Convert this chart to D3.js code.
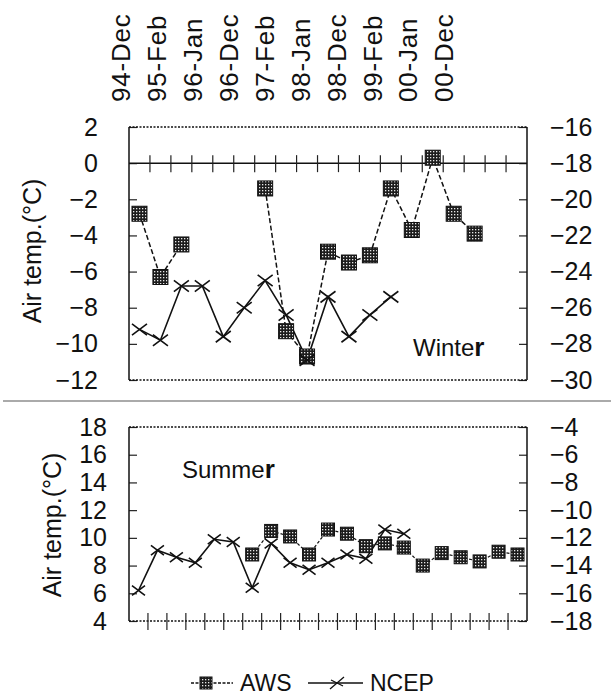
<!DOCTYPE html>
<html><head><meta charset="utf-8">
<script src="https://cdn.jsdelivr.net/npm/d3@7"></script>
<style>body{margin:0;background:#fff}svg{display:block}text{font-family:"Liberation Sans",Arial,sans-serif;fill:#111}</style>
</head><body><svg id="c" width="611" height="700"></svg>
<script>
// ---- data ----
const dateLabels = ["94-Dec","95-Feb","96-Jan","96-Dec","97-Feb","98-Jan","98-Dec","99-Feb","00-Jan","00-Dec"];
const winterAWS  = [-2.8,-6.3,-4.5,null,null,null,-1.4,-9.3,-10.7,-4.9,-5.5,-5.1,-1.4,-3.7,0.3,-2.8,-3.9,null,null];
const winterNCEP = [-9.2,-9.8,-6.8,-6.8,-9.6,-8.0,-6.5,-8.4,-10.9,-7.4,-9.6,-8.4,-7.4,null,null,null,null,null,null];
const summerAWS  = [null,null,null,null,null,null,8.8,10.5,10.1,8.8,10.6,10.3,9.4,9.6,9.3,8.0,8.9,8.6,8.3,9.0,8.8];
const summerNCEP = [6.2,9.1,8.6,8.2,9.9,9.7,6.4,9.6,8.2,7.7,8.2,8.8,8.5,10.6,10.3,null,null,null,null,null,null];
const winterTicksL = [2,0,-2,-4,-6,-8,-10,-12];
const winterTicksR = [-16,-18,-20,-22,-24,-26,-28,-30];
const summerTicksL = [18,16,14,12,10,8,6,4];
const summerTicksR = [-4,-6,-8,-10,-12,-14,-16,-18];
const seriesNames = ["AWS","NCEP"];

const svg = d3.select("#c");
svg.append("rect").attr("width",611).attr("height",700).attr("fill","#fff");

// checkered pattern for AWS squares
const defs = svg.append("defs");
const pat = defs.append("pattern").attr("id","chk").attr("width",3).attr("height",3).attr("patternUnits","userSpaceOnUse");
pat.append("rect").attr("width",3).attr("height",3).attr("fill","#1c1c1c");
pat.append("rect").attr("x",1).attr("y",1).attr("width",1.3).attr("height",1.3).attr("fill","#e8e8e8");

const L = 129, R = 527;

// top date labels
const xLab = d3.scalePoint().domain(dateLabels).range([121, 444]);
svg.append("g").selectAll("text").data(dateLabels).join("text")
  .attr("transform", d => `translate(${xLab(d)},102) rotate(-90)`)
  .attr("dy","0.36em").attr("font-size",26).attr("letter-spacing",0.8)
  .text(d => d);

function panel(cfg){
  const g = svg.append("g");
  const x = d3.scaleBand().domain(d3.range(cfg.aws.length)).range([L,R]);
  const cx = i => x(i) + x.bandwidth()/2;
  const y = d3.scaleLinear().domain(cfg.dom).range([cfg.bottom, cfg.top]);
  const yR = d3.scaleLinear().domain(cfg.domR).range([cfg.bottom, cfg.top]);

  // left axis
  const aL = g.append("g").attr("transform",`translate(${L},0)`)
    .call(d3.axisLeft(y).tickValues(cfg.ticksL).tickSize(-8).tickPadding(cfg.padL));
  aL.select(".domain").remove();
  aL.selectAll("line").attr("stroke","#222").attr("stroke-width",1.2);
  aL.selectAll("text").attr("font-size",25).attr("font-family","Liberation Sans, Arial, sans-serif").attr("fill","#111");
  // right axis
  const aR = g.append("g").attr("transform",`translate(${R},0)`)
    .call(d3.axisRight(yR).tickValues(cfg.ticksR).tickSize(-8).tickPadding(23));
  aR.select(".domain").remove();
  aR.selectAll("line").attr("stroke","#222").attr("stroke-width",1.2);
  aR.selectAll("text").attr("font-size",25).attr("font-family","Liberation Sans, Arial, sans-serif").attr("fill","#111");

  // frame
  g.append("line").attr("x1",L).attr("x2",R).attr("y1",cfg.top).attr("y2",cfg.top)
    .attr("stroke","#111").attr("stroke-width",1.6).attr("stroke-dasharray","2,1.5");
  g.append("line").attr("x1",L).attr("x2",R).attr("y1",cfg.bottom).attr("y2",cfg.bottom)
    .attr("stroke","#111").attr("stroke-width",1.6).attr("stroke-dasharray","2,1.5");
  g.append("line").attr("x1",L).attr("x2",L).attr("y1",cfg.top).attr("y2",cfg.bottom)
    .attr("stroke","#111").attr("stroke-width",1.5);
  g.append("line").attr("x1",R).attr("x2",R).attr("y1",cfg.top).attr("y2",cfg.bottom)
    .attr("stroke","#111").attr("stroke-width",1.5);

  // category axis (cross ticks)
  const ay = y(cfg.axisAt);
  if (cfg.axisAt !== cfg.dom[0]) {
    g.append("line").attr("x1",L).attr("x2",R).attr("y1",ay).attr("y2",ay).attr("stroke","#111").attr("stroke-width",1.5);
  }
  const bounds = d3.range(1, cfg.aws.length).map(i => x(i));
  g.append("g").selectAll("line").data(bounds).join("line")
    .attr("x1",d=>d).attr("x2",d=>d).attr("y1",ay-8).attr("y2",ay+9)
    .attr("stroke","#222").attr("stroke-width",1.2);

  // lines
  const line = d3.line().defined(d => d != null).x((d,i)=>cx(i)).y(d=>y(d));
  g.append("path").datum(cfg.aws).attr("d",line).attr("fill","none")
    .attr("stroke","#111").attr("stroke-width",cfg.awsW).attr("stroke-dasharray",cfg.awsDash);
  g.append("path").datum(cfg.ncep).attr("d",line).attr("fill","none")
    .attr("stroke","#111").attr("stroke-width",1.6);

  // markers
  const s = cfg.sq;
  g.append("g").selectAll("rect").data(cfg.aws.map((v,i)=>({v,i})).filter(d=>d.v!=null)).join("rect")
    .attr("x",d=>cx(d.i)-s/2).attr("y",d=>y(d.v)-s/2).attr("width",s).attr("height",s)
    .attr("fill","url(#chk)").attr("stroke","#111").attr("stroke-width",1);
  const k = cfg.xs;
  g.append("g").selectAll("path").data(cfg.ncep.map((v,i)=>({v,i})).filter(d=>d.v!=null)).join("path")
    .attr("d",d=>{const X=cx(d.i),Y=y(d.v);return `M${X-k},${Y-k*0.75}L${X+k},${Y+k*0.75}M${X-k},${Y+k*0.75}L${X+k},${Y-k*0.75}`;})
    .attr("stroke","#111").attr("stroke-width",1.6).attr("fill","none");

  // y title
  g.append("text").attr("transform",`translate(${cfg.titleX},${cfg.titleY}) rotate(-90)`)
    .attr("text-anchor","middle").attr("dy","0.36em").attr("font-size",25).text("Air temp.(°C)");

  // season label
  const t = g.append("text").attr("x",cfg.labX).attr("y",cfg.labY).attr("font-size",24);
  t.append("tspan").text(cfg.label.slice(0,-1));
  t.append("tspan").attr("font-weight","bold").attr("font-size",26).text(cfg.label.slice(-1));
}

panel({aws:winterAWS, ncep:winterNCEP, dom:[-12,2], domR:[-30,-16], top:127, bottom:380,
  ticksL:winterTicksL, ticksR:winterTicksR, padL:31, axisAt:0, awsDash:"5,2.5", awsW:1.5,
  sq:15, xs:7.5, titleX:32, titleY:251, label:"Winter", labX:413, labY:356});
panel({aws:summerAWS, ncep:summerNCEP, dom:[4,18], domR:[-18,-4], top:427, bottom:621,
  ticksL:summerTicksL, ticksR:summerTicksR, padL:22, axisAt:4, awsDash:"3,2", awsW:1.2,
  sq:13, xs:6.5, titleX:52, titleY:525, label:"Summer", labX:182, labY:478});

// divider
svg.append("line").attr("x1",3).attr("x2",611).attr("y1",401).attr("y2",401)
  .attr("stroke","#aaa").attr("stroke-width",2);

// legend
const lg = svg.append("g");
const ly = 683;
lg.append("line").attr("x1",191).attr("x2",233).attr("y1",ly).attr("y2",ly)
  .attr("stroke","#111").attr("stroke-width",1.3).attr("stroke-dasharray","3,1.5");
lg.append("rect").attr("x",200).attr("y",ly-6).attr("width",12).attr("height",12)
  .attr("fill","url(#chk)").attr("stroke","#111");
lg.append("text").attr("x",240).attr("y",ly+8).attr("font-size",23).text(seriesNames[0]);
lg.append("line").attr("x1",308).attr("x2",363).attr("y1",ly).attr("y2",ly)
  .attr("stroke","#111").attr("stroke-width",1.3);
lg.append("path").attr("d",`M330,${ly+6}L344,${ly-6}M331,${ly-3}L343,${ly+3}`)
  .attr("stroke","#111").attr("stroke-width",1.3).attr("fill","none");
lg.append("text").attr("x",370).attr("y",ly+8).attr("font-size",23).text(seriesNames[1]);
</script></body></html>
